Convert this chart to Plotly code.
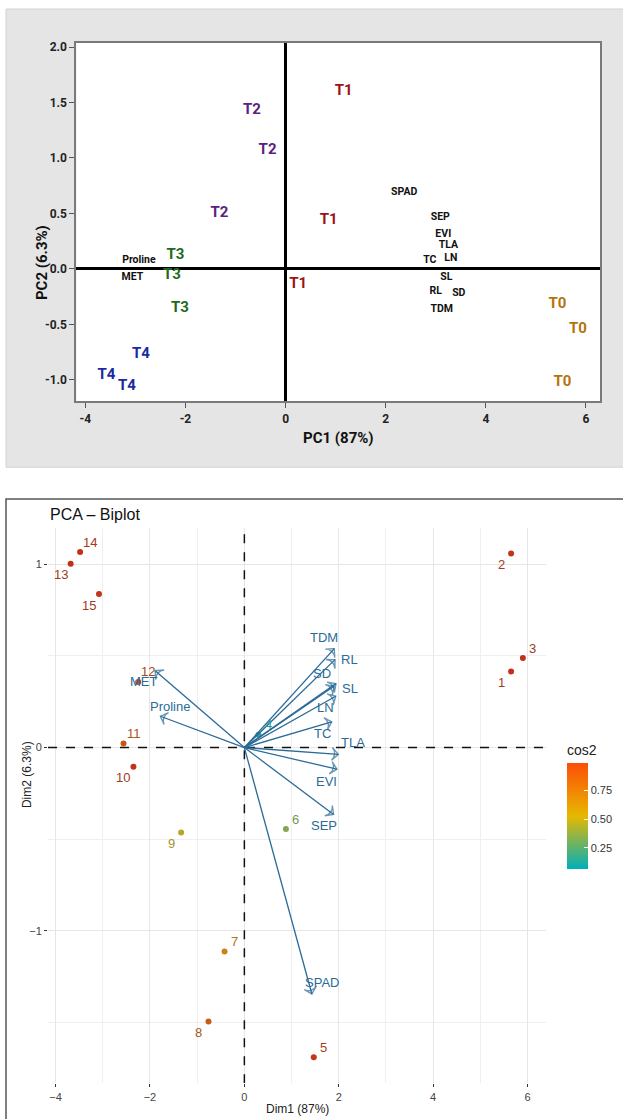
import plotly.graph_objects as go
from plotly.colors import sample_colorscale

W, H = 623, 1119
def px(x): return x / W
def py(y): return 1 - y / H

# ---------------- top panel data (PC scores) ----------------
trt_labels = ["T0", "T0", "T0", "T1", "T1", "T1", "T2", "T2", "T2",
              "T3", "T3", "T3", "T4", "T4", "T4"]
trt_pc1 = [5.43, 5.84, 5.53, 1.16, 0.86, 0.25, -0.67, -0.36, -1.32,
           -2.20, -2.27, -2.11, -2.89, -3.58, -3.17]
trt_pc2 = [-0.315, -0.54, -1.02, 1.60, 0.44, -0.135, 1.43, 1.07, 0.50,
           0.126, -0.057, -0.354, -0.77, -0.96, -1.06]
trt_colors = {"T0": "#b5730e", "T1": "#9a1414", "T2": "#5b2182",
              "T3": "#1e6b1e", "T4": "#1c2aa0"}

var_labels = ["SPAD", "SEP", "EVI", "TLA", "TC", "LN", "SL", "RL", "SD", "TDM", "Proline", "MET"]
var_pc1 = [2.37, 3.09, 3.15, 3.25, 2.88, 3.30, 3.21, 3.00, 3.46, 3.12, -2.93, -3.06]
var_pc2 = [0.69, 0.465, 0.315, 0.213, 0.081, 0.099, -0.075, -0.207, -0.225, -0.363, 0.078, -0.075]

top_xticks = [-4, -2, 0, 2, 4, 6]
top_yticks = [2.0, 1.5, 1.0, 0.5, 0.0, -0.5, -1.0]

# ---------------- bottom panel data (biplot) ----------------
ind_labels = ["1", "2", "3", "4", "5", "6", "7", "8", "9", "10", "11", "12", "13", "14", "15"]
ind_dim1 = [5.65, 5.65, 5.90, 0.30, 1.47, 0.88, -0.42, -0.76, -1.34, -2.35, -2.56, -2.25, -3.68, -3.48, -3.08]
ind_dim2 = [0.416, 1.06, 0.489, 0.07, -1.691, -0.445, -1.113, -1.495, -0.464, -0.104, 0.022, 0.358, 1.004, 1.067, 0.838]
ind_cos2 = [0.96, 0.95, 0.96, 0.08, 0.93, 0.33, 0.66, 0.80, 0.48, 0.95, 0.82, 0.88, 0.96, 0.96, 0.95]
ind_side = ["ll", "ll", "ur", "ur", "ur", "ur", "ur", "ll", "ll", "ll", "ur", "ur", "ll", "ur", "ll"]

bv_labels = ["TDM", "RL", "SD", "SL", "LN", "TC", "TLA", "EVI", "SEP", "SPAD", "MET", "Proline"]
bv_dim1 = [1.905, 1.92, 1.90, 1.94, 1.935, 1.85, 1.99, 1.96, 1.89, 1.43, -1.89, -1.78]
bv_dim2 = [0.54, 0.48, 0.335, 0.349, 0.28, 0.14, -0.037, -0.118, -0.365, -1.345, 0.42, 0.171]
bv_shift = [(-10, 11), (14, 0), (-12, 13), (14, -5), (-10, -11), (-9, -12), (15, 12),
            (-10, -12), (-10, -11), (10, 11), (-11, -11), (10, 10)]

bot_xticks = [-4, -2, 0, 2, 4, 6]
bot_yticks = [-1, 0, 1]
bot_xrange = [-4.16, 6.39]
bot_yrange = [-1.833, 1.2]

colorscale = [[0, "#00AFBB"], [0.5, "#E7B800"], [1, "#FC4E07"]]      # legend gradient
point_scale = [[0, "#2aa3ab"], [0.5, "#cda510"], [1, "#c2281a"]]      # as the dots appear
label_scale = [[0, "#2a9aa0"], [0.5, "#b58f1c"], [1, "#9c3322"]]      # as the numbers appear
cmin, cmax = 0.07, 0.99
arrow_col = "#2b6b97"

TOPF = "Roboto, Liberation Sans, sans-serif"
BOTF = "Liberation Sans, Arial, sans-serif"

fig = go.Figure()

# top: treatment labels
for t in ["T0", "T1", "T2", "T3", "T4"]:
    xs = [x for x, l in zip(trt_pc1, trt_labels) if l == t]
    ys = [y for y, l in zip(trt_pc2, trt_labels) if l == t]
    fig.add_trace(go.Scatter(x=xs, y=ys, mode="text", text=[t] * len(xs),
                             textfont=dict(family=TOPF, size=15, color=trt_colors[t], weight="bold"),
                             xaxis="x", yaxis="y", showlegend=False, hoverinfo="skip"))
fig.add_trace(go.Scatter(x=var_pc1, y=var_pc2, mode="text", text=var_labels,
                         textfont=dict(family=TOPF, size=10.5, color="#111111", weight="bold"),
                         xaxis="x", yaxis="y", showlegend=False, hoverinfo="skip"))

# bottom: dashed reference lines at zero (drawn first, under the marks)
fig.add_trace(go.Scatter(x=[0, 0], y=bot_yrange, mode="lines", xaxis="x2", yaxis="y2",
                         line=dict(color="#111", width=1.5, dash="dash"),
                         showlegend=False, hoverinfo="skip"))
fig.add_trace(go.Scatter(x=bot_xrange, y=[0, 0], mode="lines", xaxis="x2", yaxis="y2",
                         line=dict(color="#111", width=1.5, dash="dash"),
                         showlegend=False, hoverinfo="skip"))

# bottom: individuals
fig.add_trace(go.Scatter(x=ind_dim1, y=ind_dim2, mode="markers", xaxis="x2", yaxis="y2",
                         marker=dict(size=6, color=ind_cos2, colorscale=point_scale, cmin=cmin, cmax=cmax,
                                     showscale=False),
                         showlegend=False, hoverinfo="skip"))
# colour legend (cos2 gradient)
fig.add_trace(go.Scatter(x=[None, None], y=[None, None], mode="markers", xaxis="x2", yaxis="y2",
                         marker=dict(size=0, color=[cmin, cmax], colorscale=colorscale, cmin=cmin, cmax=cmax,
                                     showscale=True,
                                     colorbar=dict(title=dict(text="cos2", side="top",
                                                              font=dict(family=BOTF, size=14, color="#222")),
                                                   x=px(567), xanchor="left", y=py(741), yanchor="top",
                                                   len=127, lenmode="pixels", thickness=21,
                                                   outlinewidth=0, xpad=0, ypad=0,
                                                   tickvals=[0.25, 0.5, 0.75], ticktext=["0.25", "0.50", "0.75"],
                                                   ticks="inside", ticklen=4, tickcolor="white",
                                                   tickfont=dict(family=BOTF, size=11, color="#333"))),
                         showlegend=False, hoverinfo="skip"))

norm = [(c - cmin) / (cmax - cmin) for c in ind_cos2]
lab_cols = sample_colorscale(label_scale, norm)

annotations = []
for lab, x, y, s, c in zip(ind_labels, ind_dim1, ind_dim2, ind_side, lab_cols):
    dx, dy = (10, 10) if s == "ur" else (-10, -11)
    annotations.append(dict(x=x, y=y, xref="x2", yref="y2", text=lab, showarrow=False,
                            xshift=dx, yshift=dy, font=dict(family=BOTF, size=13, color=c)))

# bottom: variable arrows
for lab, x, y in zip(bv_labels, bv_dim1, bv_dim2):
    fig.add_trace(go.Scatter(x=[0, x], y=[0, y], mode="lines+markers", xaxis="x2", yaxis="y2",
                             line=dict(color=arrow_col, width=1.3),
                             marker=dict(symbol="arrow-wide-open", size=[0, 9], angleref="previous",
                                         color=arrow_col, line=dict(color=arrow_col, width=1.4)),
                             showlegend=False, hoverinfo="skip"))
for lab, x, y, (dx, dy) in zip(bv_labels, bv_dim1, bv_dim2, bv_shift):
    annotations.append(dict(x=x, y=y, xref="x2", yref="y2", text=lab, showarrow=False,
                            xshift=dx, yshift=dy, font=dict(family=BOTF, size=13, color=arrow_col)))

# titles
annotations += [
    dict(x=px(338), y=py(437), xref="paper", yref="paper", text="<b>PC1 (87%)</b>", showarrow=False,
         font=dict(family=TOPF, size=15, color="#111")),
    dict(x=px(31), y=py(222), xref="paper", yref="paper", text="<b>PC2 (6.3%)</b>", showarrow=False,
         textangle=-90, font=dict(family=TOPF, size=15, color="#111")),
    dict(x=px(48), y=py(513), xref="paper", yref="paper", text="PCA – Biplot", showarrow=False,
         xanchor="left", font=dict(family=BOTF, size=16, color="#111")),
    dict(x=px(297), y=py(1109), xref="paper", yref="paper", text="Dim1 (87%)", showarrow=False,
         yanchor="middle", font=dict(family=BOTF, size=12, color="#222")),
    dict(x=px(18), y=py(810), xref="paper", yref="paper", text="Dim2 (6.3%)", showarrow=False,
         textangle=-90, font=dict(family=BOTF, size=12, color="#222")),
]

shapes = [
    dict(type="rect", xref="paper", yref="paper", x0=px(6), x1=1.02, y0=py(466), y1=py(7),
         fillcolor="#e5e5e5", line=dict(color="#d2d2d2", width=1), layer="below"),
    dict(type="rect", xref="paper", yref="paper", x0=px(76.3), x1=px(600), y0=py(400), y1=py(40.7),
         fillcolor="white", line=dict(width=0), layer="below"),
    dict(type="rect", xref="paper", yref="paper", x0=px(6), x1=1.05, y0=-0.05, y1=py(498),
         fillcolor="rgba(0,0,0,0)", line=dict(color="#555555", width=1.5), layer="below"),
]

fig.update_layout(
    width=W, height=H, margin=dict(l=0, r=0, t=0, b=0),
    paper_bgcolor="white", plot_bgcolor="rgba(0,0,0,0)",
    annotations=annotations, shapes=shapes,
    xaxis=dict(domain=[px(76.3), px(600)], range=[-4.18, 6.28], showgrid=False,
               zeroline=True, zerolinecolor="#000", zerolinewidth=2.5,
               showline=True, mirror=True, linecolor="#7a7a7a", linewidth=2,
               ticks="outside", ticklen=5, tickcolor="#555", tickwidth=1,
               tickvals=top_xticks, ticktext=[str(v) for v in top_xticks],
               tickfont=dict(family=TOPF, size=12, color="#222", weight="bold")),
    yaxis=dict(domain=[py(400), py(40.7)], range=[-1.194, 2.04], showgrid=False,
               zeroline=True, zerolinecolor="#000", zerolinewidth=2.5,
               showline=True, mirror=True, linecolor="#7a7a7a", linewidth=2,
               ticks="outside", ticklen=5, tickcolor="#555", tickwidth=1,
               tickvals=top_yticks, ticktext=[f"{v:.1f}" for v in top_yticks],
               tickfont=dict(family=TOPF, size=12, color="#222", weight="bold")),
    xaxis2=dict(domain=[px(48), px(546)], range=bot_xrange, anchor="y2",
                showgrid=True, gridcolor="#e6e6e6", gridwidth=1, zeroline=False, showline=False,
                tickvals=bot_xticks, ticktext=[str(v).replace("-", "−") for v in bot_xticks],
                ticks="outside", ticklen=3, tickcolor="#333",
                minor=dict(dtick=1, tick0=0, showgrid=True, gridcolor="#efefef", gridwidth=1),
                tickfont=dict(family=BOTF, size=11, color="#444")),
    yaxis2=dict(domain=[py(1083.3), py(526.7)], range=bot_yrange, anchor="x2",
                showgrid=True, gridcolor="#e6e6e6", gridwidth=1, zeroline=False, showline=False,
                tickvals=bot_yticks, ticktext=[str(v).replace("-", "−") for v in bot_yticks],
                ticks="outside", ticklen=3, tickcolor="#333",
                minor=dict(dtick=0.5, tick0=0, showgrid=True, gridcolor="#efefef", gridwidth=1),
                tickfont=dict(family=BOTF, size=11, color="#444")),
)

fig.write_html("out.html", config={"displayModeBar": False},
               post_script="document.body.style.margin='0px';")
